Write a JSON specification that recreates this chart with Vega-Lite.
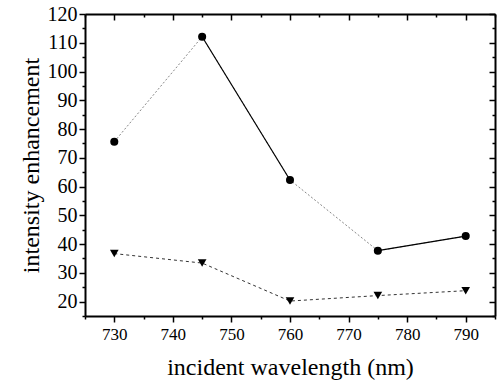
{
  "$schema": "https://vega.github.io/schema/vega-lite/v6.json",
  "width": 410,
  "height": 302,
  "autosize": "none",
  "padding": {"left": 85, "top": 14, "right": 6, "bottom": 72},
  "background": "white",
  "config": {"view": {"stroke": null}, "font": "Liberation Serif", "axis": {"labelFont": "Liberation Serif", "titleFont": "Liberation Serif"}},
  "datasets": {
    "pts": [
      {"wavelength": 730, "value": 75.6, "series": "circle"},
      {"wavelength": 745, "value": 112.1, "series": "circle"},
      {"wavelength": 760, "value": 62.3, "series": "circle"},
      {"wavelength": 775, "value": 37.7, "series": "circle"},
      {"wavelength": 790, "value": 42.8, "series": "circle"},
      {"wavelength": 730, "value": 36.7, "series": "triangle"},
      {"wavelength": 745, "value": 33.4, "series": "triangle"},
      {"wavelength": 760, "value": 20.2, "series": "triangle"},
      {"wavelength": 775, "value": 22.1, "series": "triangle"},
      {"wavelength": 790, "value": 23.8, "series": "triangle"}
    ],
    "solid": [
      {"wavelength": 745, "value": 112.1, "seg": "b"},
      {"wavelength": 760, "value": 62.3, "seg": "b"},
      {"wavelength": 775, "value": 37.7, "seg": "d"},
      {"wavelength": 790, "value": 42.8, "seg": "d"}
    ]
  },
  "resolve": {"axis": {"x": "independent", "y": "independent"}},
  "layer": [
    {
      "data": {"name": "pts"},
      "transform": [{"filter": "datum.series === 'circle'"}],
      "mark": {"type": "line", "color": "#888888", "strokeWidth": 1, "strokeDash": [2, 2]},
      "encoding": {
        "x": {"field": "wavelength", "type": "quantitative",
          "scale": {"domain": [725, 795], "nice": false, "zero": false},
          "axis": {"orient": "bottom", "title": "incident wavelength (nm)",
            "values": [725,730,735,740,745,750,755,760,765,770,775,780,785,790,795],
            "labelExpr": "datum.value % 10 === 0 ? datum.label : ''",
            "tickSize": {"condition": {"test": "datum.value % 10 === 0", "value": 6}, "value": 3},
            "grid": false, "domainColor": "black", "domainWidth": 2, "tickColor": "black", "tickWidth": 1.5,
            "labelFontSize": 17, "labelColor": "black", "labelPadding": 4,
            "titleFontSize": 24, "titleFontWeight": "normal", "titleColor": "black", "titlePadding": 13}},
        "y": {"field": "value", "type": "quantitative",
          "scale": {"domain": [15, 120], "nice": false, "zero": false},
          "axis": {"orient": "left", "title": "intensity enhancement",
            "values": [15,20,25,30,35,40,45,50,55,60,65,70,75,80,85,90,95,100,105,110,115,120],
            "labelExpr": "datum.value % 10 === 0 ? datum.label : ''",
            "tickSize": {"condition": {"test": "datum.value % 10 === 0", "value": 6}, "value": 3},
            "grid": false, "domainColor": "black", "domainWidth": 2, "tickColor": "black", "tickWidth": 1.5,
            "labelFontSize": 20, "labelColor": "black", "labelPadding": 2,
            "titleFontSize": 24, "titleFontWeight": "normal", "titleColor": "black", "titlePadding": 4}}
      }
    },
    {
      "data": {"name": "solid"},
      "mark": {"type": "line", "color": "black", "strokeWidth": 1.2},
      "encoding": {
        "x": {"field": "wavelength", "type": "quantitative", "axis": null},
        "y": {"field": "value", "type": "quantitative", "axis": null},
        "detail": {"field": "seg"}
      }
    },
    {
      "data": {"name": "pts"},
      "transform": [{"filter": "datum.series === 'triangle'"}],
      "mark": {"type": "line", "color": "#333333", "strokeWidth": 1, "strokeDash": [3, 3]},
      "encoding": {
        "x": {"field": "wavelength", "type": "quantitative", "axis": null},
        "y": {"field": "value", "type": "quantitative", "axis": null}
      }
    },
    {
      "data": {"name": "pts"},
      "transform": [{"filter": "datum.series === 'circle'"}],
      "mark": {"type": "point", "shape": "circle", "filled": true, "color": "black", "opacity": 1, "size": 65},
      "encoding": {
        "x": {"field": "wavelength", "type": "quantitative", "axis": null},
        "y": {"field": "value", "type": "quantitative", "axis": null}
      }
    },
    {
      "data": {"name": "pts"},
      "transform": [{"filter": "datum.series === 'triangle'"}],
      "mark": {"type": "point", "shape": "triangle-down", "filled": true, "color": "black", "opacity": 1, "size": 75},
      "encoding": {
        "x": {"field": "wavelength", "type": "quantitative", "axis": null},
        "y": {"field": "value", "type": "quantitative", "axis": null}
      }
    },
    {
      "data": {"name": "pts"},
      "mark": {"type": "point", "opacity": 0},
      "encoding": {
        "x": {"field": "wavelength", "type": "quantitative",
          "axis": {"orient": "top", "title": null, "labels": false,
            "values": [725,730,735,740,745,750,755,760,765,770,775,780,785,790,795],
            "tickSize": {"condition": {"test": "datum.value % 10 === 0", "value": -6}, "value": -3},
            "grid": false, "domainColor": "black", "domainWidth": 2, "tickColor": "black", "tickWidth": 1.5}},
        "y": {"field": "value", "type": "quantitative",
          "axis": {"orient": "right", "title": null, "labels": false,
            "values": [15,20,25,30,35,40,45,50,55,60,65,70,75,80,85,90,95,100,105,110,115,120],
            "tickSize": {"condition": {"test": "datum.value % 10 === 0", "value": -6}, "value": -3},
            "grid": false, "domainColor": "black", "domainWidth": 2, "tickColor": "black", "tickWidth": 1.5}}
      }
    }
  ]
}
